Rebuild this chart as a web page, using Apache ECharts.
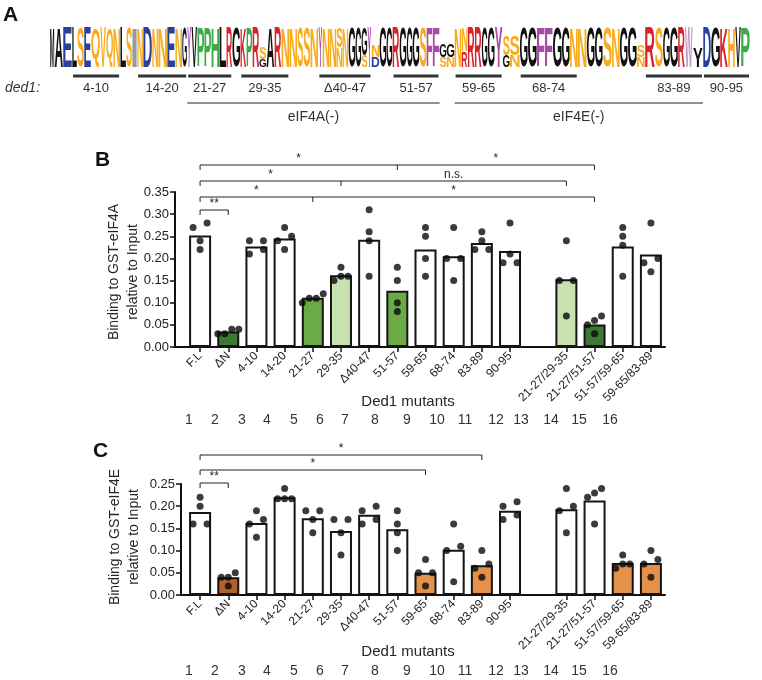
<!DOCTYPE html>
<html><head><meta charset="utf-8">
<script src="https://cdn.jsdelivr.net/npm/echarts@6/dist/echarts.min.js"></script>
<style>html,body{margin:0;padding:0;background:#fff}#c{width:762px;height:680px}</style>
</head><body><div id="c"></div>
<script>
// ================= DATA =================
const categories = ['F.L','ΔN','4-10','14-20','21-27','29-35','Δ40-47','51-57','59-65','68-74','83-89','90-95','','21-27/29-35','21-27/51-57','51-57/59-65','59-65/83-89'];

// Panel B: binding to GST-eIF4A
const eif4aMeans = [0.252,0.035,0.227,0.245,0.111,0.162,0.242,0.127,0.220,0.205,0.235,0.217,null,0.153,0.051,0.227,0.209];
const eif4aPoints = [
  [0.27,0.28,0.24,0.22],[0.04,0.03,0.04,0.03],[0.24,0.24,0.21,0.22],[0.27,0.25,0.22,0.24],
  [0.12,0.10,0.11,0.11],[0.18,0.15,0.16,0.16],[0.31,0.26,0.24,0.16],[0.18,0.15,0.10,0.08],
  [0.27,0.25,0.20,0.16],[0.27,0.20,0.20,0.15],[0.26,0.24,0.22,0.22],[0.28,0.21,0.19,0.19],
  null,
  [0.24,0.15,0.15,0.07],[0.07,0.06,0.05,0.03],[0.27,0.25,0.23,0.16],[0.28,0.19,0.20,0.17]
];
const eif4aGroups = ['none','dark','none','none','mid','light','none','mid','none','none','none','none','none','light','dark','none','none'];

// Panel C: binding to GST-eIF4E
const eif4eMeans = [0.187,0.040,0.162,0.220,0.173,0.144,0.181,0.148,0.050,0.102,0.067,0.190,null,0.193,0.213,0.072,0.072];
const eif4ePoints = [
  [0.22,0.20,0.16,0.16],[0.05,0.04,0.04,0.02],[0.19,0.17,0.16,0.13],[0.24,0.217,0.217,0.217],
  [0.19,0.19,0.17,0.14],[0.17,0.17,0.14,0.09],[0.19,0.20,0.16,0.17],[0.19,0.16,0.14,0.10],
  [0.08,0.05,0.05,0.02],[0.16,0.10,0.11,0.03],[0.10,0.07,0.06,0.04],[0.20,0.21,0.17,0.18],
  null,
  [0.24,0.20,0.19,0.14],[0.24,0.22,0.23,0.16],[0.09,0.06,0.07,0.07],[0.10,0.08,0.07,0.04]
];
const eif4eGroups = ['none','brown','none','none','none','none','none','none','orange','none','orange','none','none','none','none','orange','orange'];

const yTicksB = {min:0, max:0.35, step:0.05};
const yTicksC = {min:0, max:0.25, step:0.05};

// significance comparisons (category indexes)
const eif4aComparisons = [
  {from:0, mid:7, to:14, labels:['*','*']},
  {from:0, mid:5, to:13, labels:['*','n.s.']},
  {from:0, mid:4, to:14, labels:['*','*']},
  {from:0, to:1, labels:['**']}
];
const eif4eComparisons = [
  {from:0, to:10, labels:['*']},
  {from:0, to:8, labels:['*']},
  {from:0, to:1, labels:['**']}
];

const laneNumbers = ['1','2','3','4','5','6','7','8','9','10','11','12','13','14','15','16'];

// Panel A: sequence logo columns (top -> bottom letters, with relative height where stacked)
const logoColumns = [
  'M','A','E','L','S','E','Q','V','Q','N','L','S','I',
  'N','D','N','N','E','N','G',
  'Y','V','P','P','H','L','R','G',
  'K','P','R','S.30/G.20','A','R','N','N','S','S','N',
  'Y','N','N','S.50/N.50','N','G','G','G.70/S.30','Y','N.30/D.25','G','G',
  'R','G','G','G','S','F','F','G.35/S.25','G.35/N.25','N','N.60/R.40','R','R','G','G','Y',
  'S.50/G.30','S.50/N.30','G','G','F','F','G','G','N','N','G','G','S','N','G','G','S.30/N.25',
  'R','S','G','G','R','W','Y.50','D','G','K','H','V','P'
];
// relative column widths (occupancy) of the logo
const logoColumnWeights = [
  4.5,8.5,9,5,7,7,9,6,7,7,6,6,5,
  6,9,6,9,8,7,5,
  4,6,7,7,8,7,6,8,
  6,6,7,7,8,7,8,8,6,7,8,
  4,7,7,6,6,7,6,6,4,8,7,6,
  7,7,6,7,7,6,7,7,8,7,6,7,7,6,7,8,
  7,10,8,9,8,8,9,8,8,9,8,8,9,8,8,9,8,
  10,8,7,8,7,8,10,8,9,8,7,6,9
];
const logoColorOverrides = {8:'orange', 13:'gray', 90:'lightpurple', 91:'black', 95:'orange'}; // 1-based columns
// deleted regions (label, first logo column, last logo column)
const deletions = [['4-10',4,10],['14-20',14,20],['21-27',21,27],['29-35',29,35],['Δ40-47',40,48],['51-57',52,58],['59-65',61,67],['68-74',70,76],['83-89',85,91],['90-95',92,97]];
const regions = [['eIF4A(-)',21,58],['eIF4E(-)',61,91]];

// ================= STYLE / LAYOUT =================
const FONT = '"Liberation Sans", Arial, Helvetica, sans-serif';
const TXT = '#262626';
const palette = {none:'#ffffff', dark:'#3b7a32', mid:'#6aab48', light:'#c8e1b1', brown:'#b3602b', orange:'#e3914b'};
const letterPalette = {black:'#111111', blue:'#2b3f9e', red:'#d9232a', orange:'#f9ab1c', purple:'#a84aa8', green:'#3aab47', gray:'#9a9a9a', lightpurple:'#c993cc'};
const letterClass = {A:'black',M:'black',L:'black',I:'black',V:'black',G:'black',E:'blue',D:'blue',R:'red',K:'red',S:'orange',N:'orange',Q:'orange',T:'orange',P:'green',H:'green',Y:'purple',F:'purple',W:'purple'};
const L = {
  gridLeft:186, gridRight:97, yAxisXB:175, yAxisXC:181,
  B:{top:192, height:155, rows:[165,181,197,210], titleX:124, titleY:272, mutY:402, numY:420, label:[95,160]},
  C:{top:484, height:111, rows:[455,470,483], titleX:125, titleY:537, mutY:652, numY:671, label:[93,451]},
  laneX:[189,215,242,267,294,320,345,375,407,437,465,496,521,551,579,610],
  mutX:408,
  logo:{x0:50, x1:750, top:28, bottom:67},
  delLineY:76, delLabelY:88, regLineY:103, regLabelY:117
};

const chart = echarts.init(document.getElementById('c'));

function barData(means, groups){
  return means.map((m,i)=> m==null ? '-' : {value:m, itemStyle:{color:palette[groups[i]]}});
}
function swarm(points, pxPerUnit){
  const diam = 6.5, step = 7, out = [];
  points.forEach((vals,ci)=>{
    if(!vals) return;
    const s = vals.slice().sort((a,b)=>a-b);
    const clusters = [[s[0]]];
    for(let k=1;k<s.length;k++){
      const c = clusters[clusters.length-1];
      if((s[k]-c[c.length-1])*pxPerUnit < diam) c.push(s[k]); else clusters.push([s[k]]);
    }
    clusters.forEach(cl=>{
      const n = cl.length;
      cl.forEach((v,k)=>{
        const dx = n===2 ? (k===0?-step:step) : (k-(n-1)/2)*step;
        out.push({value:[ci,v], symbolOffset:[dx,0]});
      });
    });
  });
  return out;
}
function xAxisCfg(gi){
  return {
    type:'category', gridIndex:gi, data:categories, boundaryGap:true,
    axisLine:{show:true, lineStyle:{color:'#111', width:2}},
    axisTick:{show:true, alignWithLabel:true, length:5, interval:(i,v)=>v!=='', lineStyle:{color:'#111', width:1.5}},
    axisLabel:{interval:0, rotate:45, fontSize:12, fontFamily:FONT, color:'#222', margin:7},
    splitLine:{show:false}
  };
}
function yAxisCfg(gi, t, offset){
  return {
    type:'value', gridIndex:gi, min:t.min, max:t.max, interval:t.step, offset:offset,
    axisLine:{show:true, lineStyle:{color:'#111', width:2}},
    axisTick:{show:true, length:5, lineStyle:{color:'#111', width:1.5}},
    axisLabel:{fontSize:13, fontFamily:FONT, color:'#222', margin:6, formatter:v=>v.toFixed(2)},
    splitLine:{show:false}
  };
}
const barStyle = {type:'bar', barWidth:22, itemStyle:{borderColor:'#151515', borderWidth:2}, silent:true};
const dotStyle = {type:'scatter', symbol:'circle', symbolSize:7, itemStyle:{color:'#0a0a0a'}, silent:true, z:5};

chart.setOption({
  animation:false,
  grid:[
    {left:L.gridLeft, right:L.gridRight, top:L.B.top, height:L.B.height},
    {left:L.gridLeft, right:L.gridRight, top:L.C.top, height:L.C.height}
  ],
  xAxis:[xAxisCfg(0), xAxisCfg(1)],
  yAxis:[yAxisCfg(0, yTicksB, L.gridLeft-L.yAxisXB), yAxisCfg(1, yTicksC, L.gridLeft-L.yAxisXC)],
  series:[
    Object.assign({}, barStyle, {xAxisIndex:0, yAxisIndex:0, data:barData(eif4aMeans, eif4aGroups)}),
    Object.assign({}, dotStyle, {xAxisIndex:0, yAxisIndex:0, data:swarm(eif4aPoints, L.B.height/(yTicksB.max-yTicksB.min))}),
    Object.assign({}, barStyle, {xAxisIndex:1, yAxisIndex:1, data:barData(eif4eMeans, eif4eGroups)}),
    Object.assign({}, dotStyle, {xAxisIndex:1, yAxisIndex:1, data:swarm(eif4ePoints, L.C.height/(yTicksC.max-yTicksC.min))})
  ]
});

// ================= GRAPHIC OVERLAYS =================
const els = [];
function text(x,y,str,font,opt){
  els.push(Object.assign({type:'text', x:x, y:y, silent:true,
    style:Object.assign({text:str, font:font, fill:TXT, align:'center', verticalAlign:'middle'}, (opt&&opt.style)||{})},
    opt&&opt.el||{}));
}
function line(x1,y1,x2,y2,w,color){
  els.push({type:'line', silent:true, shape:{x1:x1,y1:y1,x2:x2,y2:y2}, style:{stroke:color||'#111', lineWidth:w||1}});
}
function poly(points,w){
  els.push({type:'polyline', silent:true, shape:{points:points}, style:{stroke:'#222', lineWidth:w||1, fill:null}});
}

// Panel labels
text(L.B.label[0], L.B.label[1], 'B', 'bold 21px '+FONT, {style:{align:'left', fill:'#111'}});
text(L.C.label[0], L.C.label[1], 'C', 'bold 21px '+FONT, {style:{align:'left', fill:'#111'}});
text(3, 15, 'A', 'bold 21px '+FONT, {style:{align:'left', fill:'#111'}});

function panelDecor(ai, P, comps, yAxisX, title){
  const cx = i => chart.convertToPixel({xAxisIndex:ai}, i);
  const y0 = chart.convertToPixel({yAxisIndex:ai}, 0);
  line(yAxisX-1, y0, L.gridLeft, y0, 2);
  const drop = 5;
  comps.forEach((c,r)=>{
    const y = P.rows[r];
    const xs = [cx(c.from)], xe = cx(c.to);
    const pts = [[xs[0],y+drop],[xs[0],y],[xe,y],[xe,y+drop]];
    poly(pts, 1);
    if(c.mid!=null){
      const xm = cx(c.mid);
      line(xm, y, xm, y+drop, 1, '#222');
      text((xs[0]+xm)/2, y-6, c.labels[0], '12px '+FONT);
      text((xm+xe)/2, y-6, c.labels[1], '12px '+FONT);
    } else {
      text((xs[0]+xe)/2, y-6, c.labels[0], '12px '+FONT);
    }
  });
  text(P.titleX, P.titleY, title, '14px '+FONT, {style:{lineHeight:19}, el:{rotation:Math.PI/2}});
  text(L.mutX, P.mutY, 'Ded1 mutants', '15px '+FONT);
  laneNumbers.forEach((n,i)=> text(L.laneX[i], P.numY, n, '14px '+FONT, {style:{fill:'#333'}}));
}
panelDecor(0, L.B, eif4aComparisons, L.yAxisXB, 'Binding to GST-eIF4A\nrelative to Input');
panelDecor(1, L.C, eif4eComparisons, L.yAxisXC, 'Binding to GST-eIF4E\nrelative to Input');

// Sequence logo
const mc = document.createElement('canvas').getContext('2d');
const LOGO_FONT = 'bold 100px "Liberation Sans", Arial, sans-serif';
mc.font = LOGO_FONT; mc.textBaseline = 'middle'; mc.textAlign = 'left';
const wsum = logoColumnWeights.reduce((a,b)=>a+b,0);
const unit = (L.logo.x1-L.logo.x0)/wsum;
const colX = [L.logo.x0];
logoColumnWeights.forEach(w=> colX.push(colX[colX.length-1]+w*unit));
const fullH = L.logo.bottom - L.logo.top;
function drawLetter(ch, x0, y0, w, h, fill){
  const m = mc.measureText(ch);
  const gl = m.actualBoundingBoxLeft, gr = m.actualBoundingBoxRight;
  const ga = m.actualBoundingBoxAscent, gd = m.actualBoundingBoxDescent;
  const sx = w/(gl+gr), sy = h/(ga+gd);
  els.push({type:'text', silent:true, x:x0+sx*gl, y:y0+sy*ga, scaleX:sx, scaleY:sy,
    style:{text:ch, font:LOGO_FONT, fill:fill, align:'left', verticalAlign:'middle'}});
}
logoColumns.forEach((spec,ci)=>{
  const parts = spec.split('/').map(p=>{ const ch = p[0]; const f = p.length>1 ? parseFloat(p.slice(1)) : 1; return [ch, f]; });
  const x0 = colX[ci]+0.2, w = colX[ci+1]-colX[ci]-0.4;
  let yb = L.logo.bottom;
  for(let k=parts.length-1;k>=0;k--){
    const [ch,f] = parts[k];
    const h = f*fullH;
    const cls = (parts.length===1 && logoColorOverrides[ci+1]) || letterClass[ch] || 'black';
    drawLetter(ch, x0, yb-h, w, h, letterPalette[cls]);
    yb -= h;
  }
});
deletions.forEach(([lab,a,b])=>{
  const xa = colX[a-1]+1, xb = colX[b]-1;
  line(xa, L.delLineY, xb, L.delLineY, 3, '#333');
  text((xa+xb)/2, L.delLabelY, lab, '13px '+FONT, {style:{fill:'#333'}});
});
regions.forEach(([lab,a,b])=>{
  const xa = colX[a-1], xb = colX[b];
  line(xa, L.regLineY, xb, L.regLineY, 1.2, '#222');
  text((xa+xb)/2, L.regLabelY, lab, '14px '+FONT, {style:{fill:'#333'}});
});
text(5, L.delLabelY, 'ded1:', 'italic 14px '+FONT, {style:{align:'left', fill:'#333'}});

chart.setOption({graphic:{elements:els}});
</script></body></html>
